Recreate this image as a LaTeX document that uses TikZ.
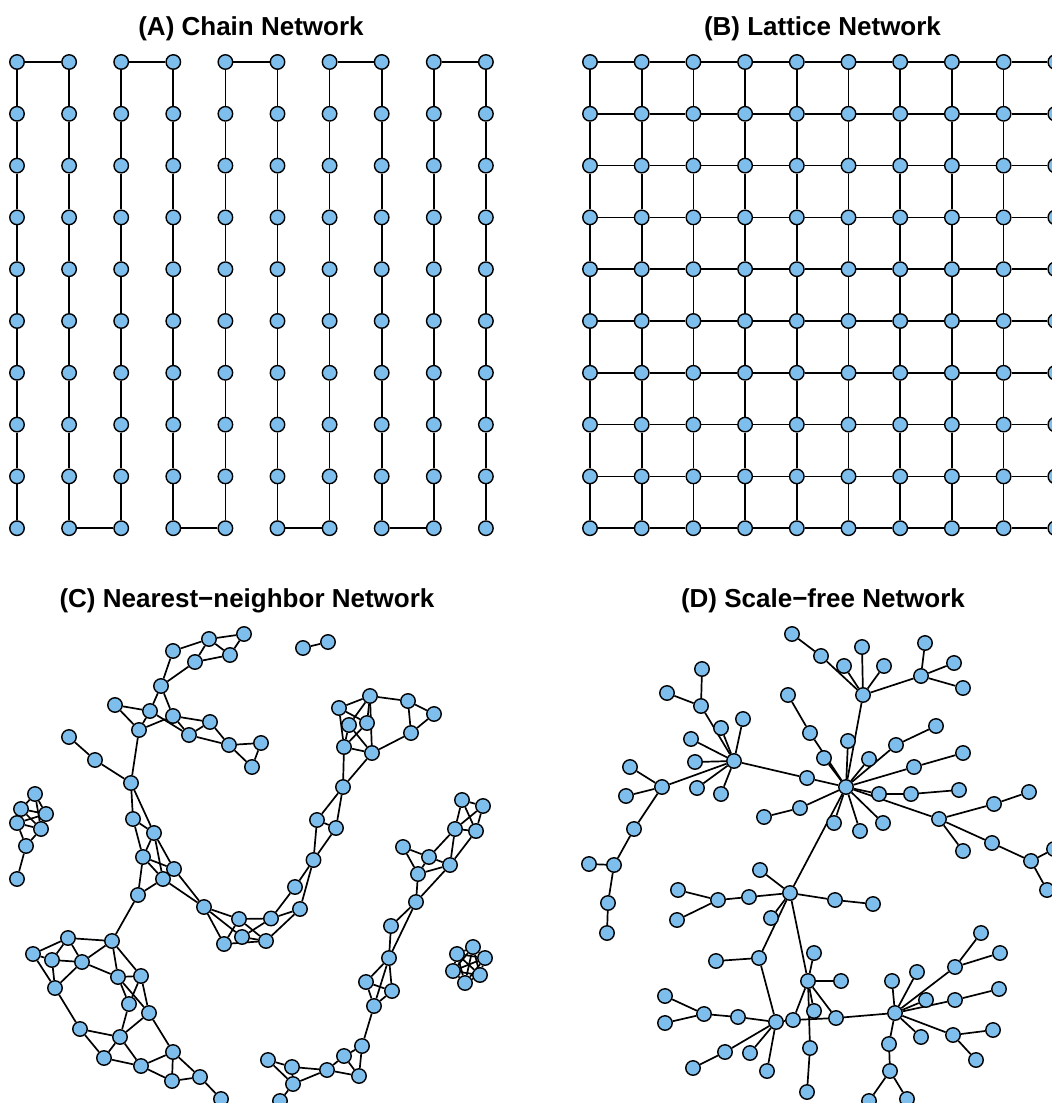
\documentclass[tikz,border=0pt]{standalone}
\usepackage{fontspec}
\setmainfont{Liberation Sans}
\definecolor{nodefill}{RGB}{125,190,236}
\pgfdeclarelayer{edgelayer}
\pgfsetlayers{edgelayer,main}
\begin{document}
\begin{tikzpicture}[x=1pt,y=-1pt,
  v/.style={circle,draw=black,fill=nodefill,line width=1.4pt,minimum size=14.5pt,inner sep=0pt},
  e/.style={line width=1.7pt,black},
  ttl/.style={font=\fontsize{26}{30}\selectfont\bfseries,anchor=base,inner sep=0pt}]
\useasboundingbox (0,0) rectangle (1052,1103);
\clip (0,0) rectangle (1052,1103);

% titles
\node[ttl] (tA) at (251,35.7) {(A) Chain Network};
\node[ttl] (tB) at (822.5,35.7) {(B) Lattice Network};
\node[ttl] (tC) at (247,607) {(C) Nearest−neighbor Network};
\node[ttl] (tD) at (823,607) {(D) Scale−free Network};

% ---------- A: chain ----------
\foreach \i in {0,...,9}{\foreach \j in {0,...,9}{
  \node[v] (A-\i-\j) at ({17+52.1*\i},{62+51.8*\j}) {};}}
% ---------- B: lattice ----------
\foreach \i in {0,...,9}{\foreach \j in {0,...,9}{
  \node[v] (B-\i-\j) at ({590+51.7*\i},{62+51.8*\j}) {};}}

\begin{pgfonlayer}{edgelayer}
\foreach \i in {0,...,9}{\foreach \j [count=\k from 1] in {0,...,8}{
  \draw[e] (A-\i-\j) -- (A-\i-\k);
  \draw[e] (B-\i-\j) -- (B-\i-\k);
  \draw[e] (B-\j-\i) -- (B-\k-\i);}}
\foreach \a/\b in {0/1,2/3,4/5,6/7,8/9} \draw[e] (A-\a-0) -- (A-\b-0);
\foreach \a/\b in {1/2,3/4,5/6,7/8} \draw[e] (A-\a-9) -- (A-\b-9);
\end{pgfonlayer}

% ---------- C: nearest-neighbor ----------
\foreach \n/\x/\y in {
c1/244/634,c2/209/639,c3/173/651,c4/230/655,c5/195/662,c6/161/686,c7/115/705,
c8/150/711,c9/173/716,c10/210/722,c11/139/730,c12/189/735,c13/229/745,c14/261/743,
c15/252/767,c16/69/737,c17/95/760,c18/131/783,c19/35/794,c20/21/809,c21/46/814,
c22/17/823,c23/41/829,c24/26/846,c25/133/819,c26/154/833,c27/143/857,c28/17/879,
c29/174/869,c30/163/879,c31/138/895,c32/204/907,c33/239/919,c34/271/918.5,c35/242/937,
c36/224/944,c37/266/941,c38/68/938,c39/112/941,c40/33/954,c41/52/960,c42/82/962,
c43/55/988,c44/118/977,c45/141/976,c46/129/1004,c47/149/1013,c48/80/1029,c49/120/1037,
c50/104/1058,c51/141/1066,c52/173/1052,c53/172/1081,c54/200/1077,c55/221/1099,
c56/303/648,c57/328/642,c58/370/696,c59/339/708,c60/408/701,c61/434/714,c62/349/725,
c63/367/723,c64/411/733,c65/344/747,c66/372/753,c67/343/787,c68/317/820,c69/336/828,
c70/313.5/860,c71/295/887,c72/300/909,c73/462/800,c74/483/806,c75/455/829,c76/476/831,
c77/403/847,c78/429/857,c79/450/865,c80/418/874,c81/416/902,c82/391/926,c83/389/958,
c84/366/982,c85/392/991,c86/374/1006,c87/362/1046,c88/344/1056,c89/359/1076,c90/327/1070,
c91/292/1067,c92/268/1060,c93/293/1084,c94/280/1101,
k1/473/947,k2/457/954,k3/485/958,k4/453/971,k5/480/975,k6/465/983}
  \node[v] (\n) at (\x,\y) {};

\begin{pgfonlayer}{edgelayer}
\foreach \a/\b in {
c1/c2,c2/c4,c4/c1,c3/c2,c2/c5,c5/c4,c3/c6,c5/c6,c6/c8,c6/c9,c7/c8,c7/c11,c8/c11,c11/c9,
c8/c12,c9/c10,c9/c12,c12/c10,c12/c13,c10/c13,c13/c14,c14/c15,c13/c15,c11/c18,c16/c17,
c17/c18,c18/c25,c18/c26,c25/c26,c25/c27,c26/c27,
c19/c20,c19/c21,c19/c23,c20/c21,c20/c23,c20/c22,c22/c21,c22/c23,c21/c23,c22/c24,c23/c24,c24/c28,
c27/c29,c27/c30,c27/c31,c31/c30,c26/c30,c26/c29,c29/c32,c30/c32,c31/c39,c32/c33,c32/c36,
c32/c35,c33/c34,c33/c36,c33/c37,c35/c34,c36/c37,c35/c37,
c38/c39,c38/c40,c38/c41,c38/c42,c40/c41,c40/c43,c41/c42,c41/c43,c42/c39,c42/c43,c42/c44,
c39/c44,c39/c45,c44/c45,c44/c46,c44/c47,c45/c46,c45/c47,c43/c48,c46/c49,c47/c49,c47/c52,
c48/c49,c48/c50,c49/c50,c49/c51,c50/c51,c51/c52,c51/c53,c52/c53,c52/c54,c53/c54,c54/c55,
c56/c57,c59/c58,c58/c60,c60/c61,c60/c64,c61/c64,c64/c66,c59/c63,c59/c65,c58/c62,c58/c66,
c58/c63,c62/c65,c62/c66,c63/c65,c65/c66,c67/c65,c67/c66,c67/c68,c67/c69,c68/c69,c68/c70,
c69/c70,c70/c71,c70/c72,c71/c34,c72/c34,c72/c37,
c73/c74,c73/c75,c73/c76,c74/c75,c74/c76,c75/c76,c75/c78,c77/c78,c75/c79,c76/c79,c78/c79,
c78/c80,c77/c80,c80/c79,c80/c81,c79/c81,c81/c82,c81/c83,c82/c83,c83/c84,c83/c86,c83/c85,
c84/c86,c84/c85,c85/c86,c86/c87,c87/c88,c87/c89,c88/c89,c88/c90,c90/c89,c90/c91,c90/c93,
c91/c92,c91/c93,c92/c93,c93/c94,
k1/k2,k1/k3,k1/k4,k1/k5,k1/k6,k2/k3,k2/k4,k2/k5,k2/k6,k3/k4,k3/k5,k3/k6,k4/k5,k4/k6,k5/k6}
  \draw[e] (\a) -- (\b);
\end{pgfonlayer}

% ---------- D: scale-free ----------
\foreach \n/\x/\y in {
d1/792/634,d2/821/656,d3/862/647,d4/844/666,d5/884/666,d6/863/695,d7/925/643,d8/954/663,
d9/921/676,d10/963/688,d11/702/669,d12/667/693,d13/701/706,d14/788/695,d15/810/733,
d16/721/728,d17/743/719,d18/691/739,d19/695/762,d20/734/761,d21/630/767,d22/662/787,
d23/626/796,d24/697/788,d25/721/794,d26/634/829,d27/807/778,d28/848/741,d29/824/758,
d30/869/759,d31/896/745,d32/936/726,d33/914/767,d34/963/753,d35/846/787,d36/879/794,
d37/911/794,d38/959/790,d39/939/819,d40/994/804,d41/1029/792,d42/800/808,d43/764/817,
d44/834/823,d45/860/831,d46/883/823,d47/963/851,d48/992/843,d49/1031/861,d50/1054/849,
d51/1047/890,d52/589/864,d53/614/865,d54/608/903,d55/607/933,d56/760/870,d57/790/893,
d58/749/897,d59/718/900,d60/678/890,d61/677/920,d62/771/918,d63/759/958,d64/716/961,
d65/835/900,d66/873/904,d67/814/953,d68/808/981,d69/841/981,d70/814/1011,d71/836/1018,
d72/810/1048,d73/807/1092,d74/665/996,d75/665/1023,d76/704/1014,d77/738/1017,d78/776/1022,
d79/793/1020,d80/725/1052,d81/693/1068,d82/750/1053,d83/767/1071,d84/895/1013,d85/892/981,
d86/917/972,d87/955/967,d88/981/933,d89/1000/953,d90/926/1000,d91/955/1000,d92/999/989,
d93/921/1037,d94/953/1035,d95/993/1030,d96/976/1060,d97/889/1044,d98/890/1071,
d99/869/1101,d100/907/1099}
  \node[v] (\n) at (\x,\y) {};

\begin{pgfonlayer}{edgelayer}
\foreach \a/\b in {
d1/d2,d2/d6,d3/d6,d4/d6,d5/d6,d6/d9,d9/d7,d9/d8,d9/d10,d6/d35,
d11/d13,d12/d13,d13/d20,d16/d20,d17/d20,d18/d20,d19/d20,d24/d20,d25/d20,d22/d20,d20/d27,
d27/d35,d21/d22,d23/d22,d22/d26,d26/d53,
d14/d15,d15/d35,d28/d35,d29/d35,d30/d35,d31/d35,d31/d32,d33/d35,d33/d34,d35/d36,d36/d37,
d37/d38,d35/d39,d39/d40,d40/d41,d39/d47,d39/d48,d48/d49,d49/d50,d49/d51,d42/d35,d43/d42,
d44/d35,d45/d35,d46/d35,d35/d57,
d52/d53,d53/d54,d54/d55,
d56/d57,d57/d58,d58/d59,d59/d60,d59/d61,d57/d62,d57/d63,d57/d68,d57/d65,d65/d66,d63/d64,d63/d78,
d68/d67,d68/d69,d68/d70,d68/d71,d68/d72,d72/d73,d68/d79,d79/d71,d71/d84,
d78/d77,d77/d76,d76/d74,d76/d75,d78/d80,d80/d81,d78/d82,d78/d83,d78/d79,
d84/d85,d84/d86,d84/d87,d87/d88,d87/d89,d84/d90,d84/d91,d91/d92,d84/d93,d84/d94,d94/d95,
d94/d96,d84/d97,d97/d98,d98/d99,d98/d100}
  \draw[e] (\a) -- (\b);
\end{pgfonlayer}
\end{tikzpicture}
\end{document}
